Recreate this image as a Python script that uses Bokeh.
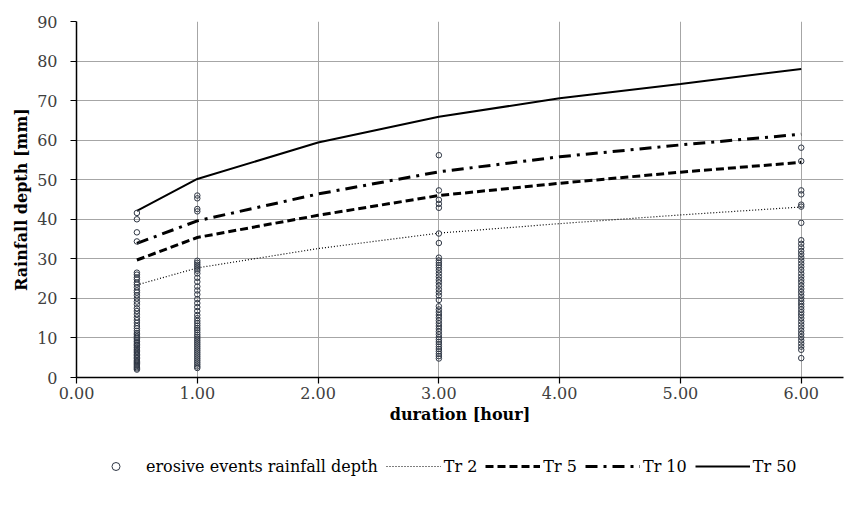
from bokeh.plotting import figure
from bokeh.layouts import column
from bokeh.models import (ColumnDataSource, FixedTicker, NumeralTickFormatter,
                          Legend, LegendItem, Range1d)
from bokeh.embed import file_html
from bokeh.resources import INLINE

# Observed erosive events: duration [hour] and rainfall depth [mm]
depth_05h = [41.6, 40.0, 36.7, 34.4, 26.5, 26.0, 25.3, 24.8, 24.0, 23.5, 22.8, 22.0,
             21.5, 20.8, 20.0, 19.2, 18.5, 17.5, 16.8, 16.0, 15.2, 14.5, 13.8, 13.0,
             12.4, 11.8, 11.2, 10.8, 10.3, 9.9, 9.5, 9.1, 8.7, 8.3, 8.0, 7.6, 7.2,
             6.9, 6.5, 6.2, 5.8, 5.5, 5.1, 4.8, 4.4, 4.1, 3.8, 3.5, 3.2, 2.9, 2.6,
             2.3, 2.0]
depth_1h = [46.0, 45.3, 42.6, 42.0, 29.5, 29.0, 28.5, 28.0, 27.5, 27.0, 26.3, 25.2,
            24.2, 23.0, 22.0, 21.0, 19.8, 18.8, 17.8, 16.8, 15.8, 15.0, 14.3, 13.7,
            13.1, 12.5, 12.0, 11.4, 10.8, 10.3, 9.8, 9.3, 8.8, 8.3, 7.8, 7.3, 6.8,
            6.3, 5.8, 5.3, 4.8, 4.3, 3.8, 3.3, 2.8, 2.4]
depth_3h = [56.2, 47.3, 44.9, 43.9, 42.9, 36.4, 34.0, 30.3, 29.6, 29.0, 28.4, 27.8,
            27.1, 26.3, 25.5, 24.7, 24.0, 23.2, 22.3, 21.5, 20.7, 19.6, 18.0, 17.2,
            16.5, 15.8, 15.1, 14.4, 13.7, 13.0, 12.3, 11.6, 10.9, 10.2, 9.6, 9.0,
            8.4, 7.8, 7.2, 6.6, 6.0, 5.4, 4.8]
depth_6h = [58.1, 54.7, 47.3, 46.3, 43.7, 43.2, 39.1, 34.7, 33.8, 32.9, 32.0, 31.2,
            30.4, 29.6, 28.8, 28.0, 27.2, 26.3, 25.5, 24.7, 24.0, 23.2, 22.4, 21.6,
            20.8, 20.0, 19.3, 18.6, 17.9, 17.2, 16.5, 15.8, 15.0, 14.2, 13.4, 12.6,
            11.8, 11.0, 10.2, 9.4, 8.6, 7.8, 7.0, 4.9]

# Depth-duration curves for return periods Tr 2, 5, 10, 50 years
curve_duration = [0.5, 1.0, 2.0, 3.0, 4.0, 5.0, 6.0]
tr2 = [23.4, 27.7, 32.6, 36.5, 38.9, 41.1, 43.1]
tr5 = [29.7, 35.4, 41.0, 46.0, 49.1, 51.9, 54.4]
tr10 = [33.9, 39.6, 46.4, 52.0, 55.8, 58.8, 61.5]
tr50 = [42.1, 50.2, 59.4, 65.9, 70.6, 74.2, 78.0]

x_ticks = [0, 1, 2, 3, 4, 5, 6]
y_ticks = [0, 10, 20, 30, 40, 50, 60, 70, 80, 90]

FONT = "DejaVu Serif"

# line styles shared by the chart and its legend
STYLES = {
    "Tr 2": dict(line_color="black", line_width=1.2, line_dash="1 2"),
    "Tr 5": dict(line_color="black", line_width=3, line_dash="8 4"),
    "Tr 10": dict(line_color="black", line_width=3, line_dash="12 6 3 6"),
    "Tr 50": dict(line_color="black", line_width=2),
}
MARKER = dict(marker="circle", size=5.5, line_color="#2f3745", line_width=1,
              fill_alpha=0)
CURVES = [("Tr 2", tr2), ("Tr 5", tr5), ("Tr 10", tr10), ("Tr 50", tr50)]

ev_x, ev_y = [], []
for d, vals in [(0.5, depth_05h), (1.0, depth_1h), (3.0, depth_3h), (6.0, depth_6h)]:
    ev_x += [d] * len(vals)
    ev_y += vals
events = ColumnDataSource(dict(x=ev_x, y=ev_y))

p = figure(width=853, height=440, output_backend="svg", toolbar_location=None,
           x_range=Range1d(0, 6.35), y_range=Range1d(0, 90),
           min_border_left=76, min_border_right=10, min_border_top=21,
           min_border_bottom=63)
p.outline_line_color = None

# grid
p.xgrid.ticker = FixedTicker(ticks=x_ticks)
p.ygrid.ticker = FixedTicker(ticks=y_ticks)
for g in (p.xgrid, p.ygrid):
    g.grid_line_color = "#a6a6a6"
    g.grid_line_width = 1

# axes
p.xaxis.ticker = FixedTicker(ticks=x_ticks)
p.yaxis.ticker = FixedTicker(ticks=y_ticks)
p.xaxis.formatter = NumeralTickFormatter(format="0.00")
p.xaxis.axis_label = "duration [hour]"
p.yaxis.axis_label = "Rainfall depth [mm]"
for ax in (p.xaxis, p.yaxis):
    ax.axis_line_color = "black"
    ax.axis_line_width = 1.5
    ax.major_tick_line_color = "black"
    ax.major_tick_line_width = 1.2
    ax.major_tick_out = 6
    ax.major_tick_in = 0
    ax.minor_tick_line_color = None
    ax.major_label_text_font = FONT
    ax.major_label_text_font_size = "16px"
    ax.major_label_text_color = "#404040"
    ax.axis_label_text_font = FONT
    ax.axis_label_text_font_size = "16px"
    ax.axis_label_text_font_style = "bold"
    ax.axis_label_text_color = "black"
p.xaxis.major_label_standoff = 3
p.xaxis.axis_label_standoff = 3
p.yaxis.major_label_standoff = 13
p.yaxis.axis_label_standoff = 3

# curves and events
for name, ys in CURVES:
    p.line(curve_duration, ys, **STYLES[name])
p.scatter("x", "y", source=events, **MARKER)

# legend strip beneath the chart; its renderers carry the same data but
# its ranges keep them out of view, so only the legend shows
leg = figure(width=853, height=67, output_backend="svg", toolbar_location=None,
             x_range=Range1d(100, 101), y_range=Range1d(1000, 1001),
             x_axis_location=None, y_axis_location=None,
             min_border_left=0, min_border_right=0, min_border_top=0,
             min_border_bottom=0)
leg.outline_line_color = None
leg.xgrid.visible = False
leg.ygrid.visible = False

items = [LegendItem(label="erosive events rainfall depth",
                    renderers=[leg.scatter("x", "y", source=events, **MARKER)])]
for name, ys in CURVES:
    r = leg.line(curve_duration, ys, **STYLES[name])
    items.append(LegendItem(label=name, renderers=[r]))

legend = Legend(items=items, orientation="horizontal", location=(12, 31))
legend.label_text_font = FONT
legend.label_text_font_size = "16px"
legend.label_text_color = "black"
legend.glyph_width = 55
legend.label_standoff = 3
legend.spacing = 8
legend.padding = 0
legend.margin = 0
legend.border_line_color = None
legend.background_fill_alpha = 0
leg.add_layout(legend)

layout = column(p, leg, spacing=0)
open("out.html", "w").write(file_html(layout, INLINE))
